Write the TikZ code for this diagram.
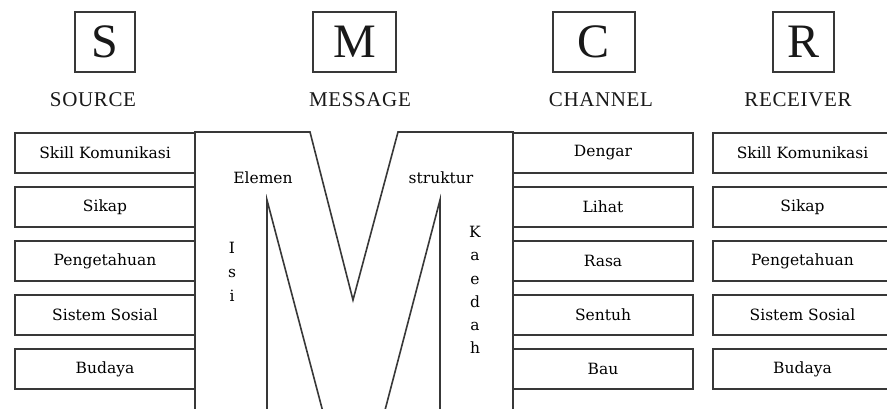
\documentclass[tikz,border=0pt]{standalone}
\usepackage{fontspec}
\setmainfont{Liberation Serif}
\newfontfamily\boxfont{DejaVu Serif}
\newfontfamily\headfont[LetterSpace=3]{Liberation Serif}
\begin{document}
\begin{tikzpicture}[x=1pt,y=-1pt,
  line/.style={draw=black!78,line width=1.6pt},
  itembox/.style={line,minimum width=180pt,minimum height=40pt,inner sep=0pt,
    font=\boxfont\fontsize{15.5}{15.5}\selectfont,text=black},
  letterbox/.style={line,minimum height=60pt,inner sep=0pt,
    font=\fontsize{48}{48}\selectfont,text=black!90},
  headlabel/.style={font=\headfont\fontsize{21}{21}\selectfont,text=black!90},
  mtext/.style={font=\boxfont\fontsize{15.5}{15.5}\selectfont,text=black},
  vtext/.style={mtext,align=center,inner sep=0pt}]
\useasboundingbox (0,0) rectangle (887,409);
\fill[white] (0,0) rectangle (887,409);
% header letter boxes
\node[letterbox,minimum width=60pt] (S) at (105,42) {S};
\node[letterbox,minimum width=83pt] (M) at (354.5,42) {M};
\node[letterbox,minimum width=82pt] (C) at (594,42) {C};
\node[letterbox,minimum width=61pt] (R) at (803.5,42) {R};
\node[headlabel] (Slab) at (93,100) {SOURCE};
\node[headlabel] (Mlab) at (360,100) {MESSAGE};
\node[headlabel] (Clab) at (601,100) {CHANNEL};
\node[headlabel] (Rlab) at (798,100) {RECEIVER};
% source boxes
\foreach \t [count=\i] in {Skill Komunikasi,Sikap,Pengetahuan,Sistem Sosial,Budaya}
  \node[itembox] (s\i) at (105,153+54*\i-54) {\t};
% channel boxes
\foreach \t [count=\i] in {Dengar,Lihat,Rasa,Sentuh,Bau}
  \node[itembox] (c\i) at (603,153+54*\i-54) {\t};
% receiver boxes
\foreach \t [count=\i] in {Skill Komunikasi,Sikap,Pengetahuan,Sistem Sosial,Budaya}
  \node[itembox,minimum width=179pt] (r\i) at (802.5,153+54*\i-54) {\t};
% big M
\coordinate (mA) at (195,414);
\coordinate (mB) at (195,132);
\coordinate (mC) at (310,132);
\coordinate (mD) at (353,300);
\coordinate (mE) at (398,132);
\coordinate (mF) at (513,132);
\coordinate (mG) at (513,414);
\coordinate (mH) at (440,414);
\coordinate (mI) at (440,200);
\coordinate (mJ) at (384,414);
\coordinate (mK) at (323.5,414);
\coordinate (mL) at (267,200);
\coordinate (mN) at (267,414);
\fill[white] (mA) -- (mB) -- (mC) -- (mD) -- (mE) -- (mF) -- (mG) -- (mH) -- (mI) -- (mJ) -- (mK) -- (mL) -- (mN) -- cycle;
\draw[line,line join=miter] (mA) -- (mB) -- (mC) -- (mD) -- (mE) -- (mF) -- (mG);
\draw[line,line join=miter] (mH) -- (mI) -- (mJ);
\draw[line,line join=miter] (mK) -- (mL) -- (mN);
\node[mtext] (el) at (263,178) {Elemen};
\node[mtext] (st) at (441,178) {struktur};
\node[vtext,font=\boxfont\fontsize{15.5}{24}\selectfont] (isi) at (232,272) {I\\s\\i};
\node[vtext,font=\boxfont\fontsize{15.5}{23.3}\selectfont] (kd) at (475,290) {K\\a\\e\\d\\a\\h};
\end{tikzpicture}
\end{document}
